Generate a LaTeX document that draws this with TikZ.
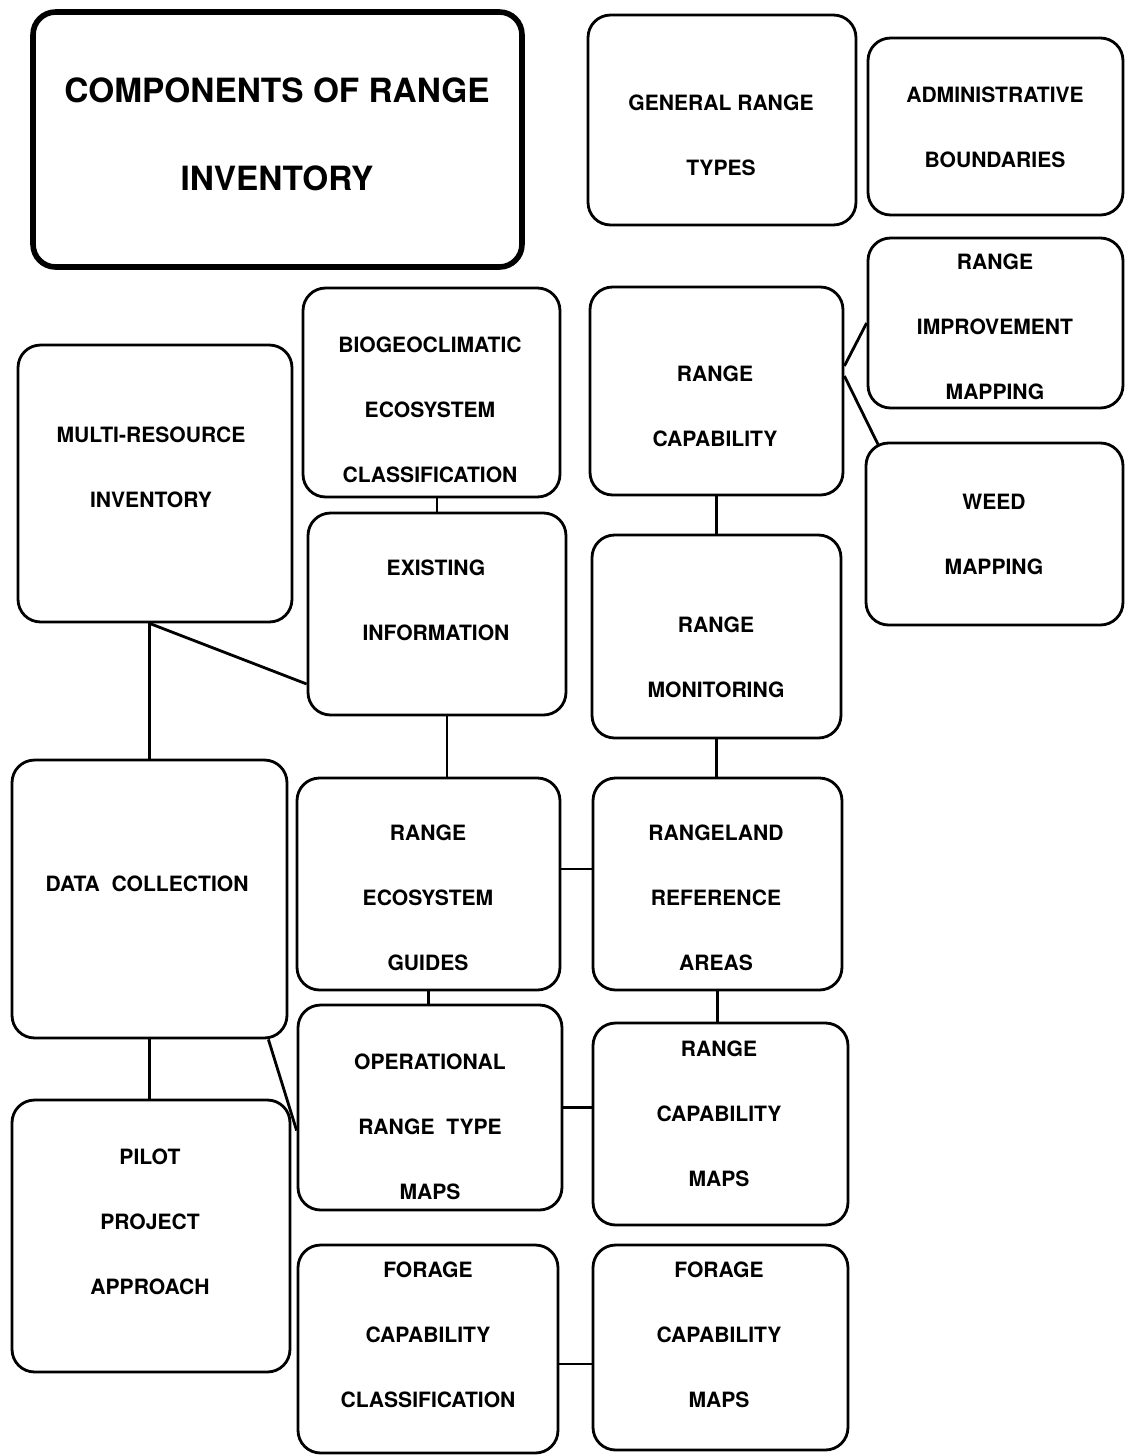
\documentclass[tikz,border=0pt]{standalone}
\usepackage{fontspec}
\setmainfont{TeX Gyre Heros}
\usepackage{tikz}

\tikzset{
  box/.style={draw, line width=1.6pt, rounded corners=0.45cm, inner sep=0pt},
  boxtxt/.style={align=center, inner sep=0pt, font=\bfseries\fontsize{12}{37}\selectfont},
  link/.style={line width=1.6pt}
}

\begin{document}
\begin{tikzpicture}[x=0.02cm,y=-0.02cm]
        \useasboundingbox (0,0) rectangle (1125,1455);
        % Title
        \draw (277.5,139.5) node[box,line width=3.2pt,minimum width=9.78cm,minimum height=5.1cm](title) {};
        \draw (277,134) node[boxtxt,font=\bfseries\fontsize{19}{50}\selectfont](titleT) {COMPONENTS OF RANGE\\INVENTORY};
        % Right column
        \draw (722,120) node[box,minimum width=5.36cm,minimum height=4.2cm](gen) {};
        \draw (721,135) node[boxtxt](genT) {GENERAL RANGE\\TYPES};
        \draw (995.5,126.5) node[box,minimum width=5.1cm,minimum height=3.54cm](admin) {};
        \draw (995,127) node[boxtxt](adminT) {ADMINISTRATIVE\\BOUNDARIES};
        \draw (995.5,323) node[box,minimum width=5.1cm,minimum height=3.4cm](improv) {};
        \draw (995,327) node[boxtxt](improvT) {RANGE\\IMPROVEMENT\\MAPPING};
        \draw (994.5,534) node[box,minimum width=5.14cm,minimum height=3.64cm](weed) {};
        \draw (994,534) node[boxtxt](weedT) {WEED\\MAPPING};
        % Range capability and monitoring
        \draw (716.5,391) node[box,minimum width=5.06cm,minimum height=4.16cm](capab) {};
        \draw (715,406) node[boxtxt](capabT) {RANGE\\CAPABILITY};
        \draw (716.5,636.5) node[box,minimum width=4.98cm,minimum height=4.06cm](monit) {};
        \draw (716,657) node[boxtxt](monitT) {RANGE\\MONITORING};
        % Middle column
        \draw (431.5,392.5) node[box,minimum width=5.14cm,minimum height=4.18cm](bio) {};
        \draw (430,410) node[boxtxt](bioT) {BIOGEOCLIMATIC\\ECOSYSTEM\\CLASSIFICATION};
        \draw (437,614) node[box,minimum width=5.16cm,minimum height=4.04cm](exist) {};
        \draw (436,600) node[boxtxt](existT) {EXISTING\\INFORMATION};
        \draw (428.5,884) node[box,minimum width=5.26cm,minimum height=4.24cm](guides) {};
        \draw (428,898) node[boxtxt](guidesT) {RANGE\\ECOSYSTEM\\GUIDES};
        \draw (430,1107.5) node[box,minimum width=5.28cm,minimum height=4.1cm](oper) {};
        \draw (430,1127) node[boxtxt](operT) {OPERATIONAL\\RANGE~~TYPE\\MAPS};
        \draw (428,1349) node[box,minimum width=5.2cm,minimum height=4.16cm](fclass) {};
        \draw (428,1335) node[boxtxt](fclassT) {FORAGE\\CAPABILITY\\CLASSIFICATION};
        % Right middle column
        \draw (717.5,884) node[box,minimum width=4.98cm,minimum height=4.24cm](refer) {};
        \draw (716,898) node[boxtxt](referT) {RANGELAND\\REFERENCE\\AREAS};
        \draw (720.5,1124) node[box,minimum width=5.1cm,minimum height=4.04cm](capmap) {};
        \draw (719,1114) node[boxtxt](capmapT) {RANGE\\CAPABILITY\\MAPS};
        \draw (720.5,1347.5) node[box,minimum width=5.1cm,minimum height=4.1cm](fmaps) {};
        \draw (719,1335) node[boxtxt](fmapsT) {FORAGE\\CAPABILITY\\MAPS};
        % Left column
        \draw (155,483.5) node[box,minimum width=5.48cm,minimum height=5.54cm](multi) {};
        \draw (151,467) node[boxtxt](multiT) {MULTI-RESOURCE\\INVENTORY};
        \draw (149.5,899) node[box,minimum width=5.5cm,minimum height=5.56cm](data) {};
        \draw (147,884) node[boxtxt](dataT) {DATA~~COLLECTION};
        \draw (151,1236) node[box,minimum width=5.56cm,minimum height=5.44cm](pilot) {};
        \draw (150,1222) node[boxtxt](pilotT) {PILOT\\PROJECT\\APPROACH};
        % Links
        \draw[link] ([yshift=0.5cm]capab.east) -- (improv.west);
        \draw[link] ([yshift=0.3cm]capab.east) -- ([shift={(0.28cm,-0.08cm)}]weed.north west);
        \draw[link] (capab.south) -- (capab.south |- monit.north);
        \draw[link] (monit.south) -- (monit.south |- refer.north);
        \draw[link] (exist.north |- bio.south) -- (exist.north);
        \draw[link] (data.north |- multi.south) -- (data.north);
        \draw[link] (data.north |- multi.south) -- ([yshift=-1.4cm]exist.west);
        \draw[link] ([xshift=0.2cm]exist.south) -- ([xshift=0.2cm]exist.south |- guides.north);
        \draw[link] ([yshift=0.3cm]guides.east) -- ([yshift=0.3cm]guides.east -| refer.west);
        \draw[link] (guides.south) -- (guides.south |- oper.north);
        \draw[link] (refer.south) -- (refer.south |- capmap.north);
        \draw[link] (oper.east) -- (oper.east -| capmap.west);
        \draw[link] (data.south) -- (data.south |- pilot.north);
        \draw[link] ([xshift=-0.4cm]data.south east) -- ([yshift=-0.46cm]oper.west);
        \draw[link] ([yshift=-0.3cm]fclass.east) -- ([yshift=-0.3cm]fclass.east -| fmaps.west);
\end{tikzpicture}
\end{document}
